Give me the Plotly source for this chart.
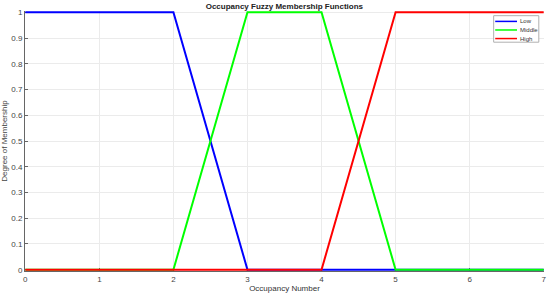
import plotly.graph_objects as go

# membership function breakpoints
x_low = [0, 2, 3, 7]
y_low = [1, 1, 0, 0]
x_mid = [0, 2, 3, 4, 5, 7]
y_mid = [0, 0, 1, 1, 0, 0]
x_high = [0, 4, 5, 7]
y_high = [0, 0, 1, 1]

names = ['Low', 'Middle', 'High']
colors = ['#0000ff', '#00ff00', '#ff0000']

x_ticks = [0, 1, 2, 3, 4, 5, 6, 7]
y_ticks = [0, 0.1, 0.2, 0.3, 0.4, 0.5, 0.6, 0.7, 0.8, 0.9, 1]
y_labels = ['0', '0.1', '0.2', '0.3', '0.4', '0.5', '0.6', '0.7', '0.8', '0.9', '1']

fig = go.Figure()
for xs, ys, name, col in zip([x_low, x_mid, x_high], [y_low, y_mid, y_high], names, colors):
    fig.add_trace(go.Scatter(x=xs, y=ys, mode='lines', name=name,
                             line=dict(color=col, width=2), showlegend=False))

axis_style = dict(showgrid=True, gridcolor='#ebebeb', gridwidth=1,
                  showline=True, linecolor='#666666', linewidth=1,
                  ticks='inside', ticklen=3, tickcolor='#666666',
                  tickfont=dict(size=8, color='#444444', family='Liberation Sans'),
                  zeroline=False, mirror=False, automargin=False, layer='below traces')

# tiny padding so the lines lying on 0 and 1 are not clipped by the plot area
fig.update_xaxes(range=[-0.004, 7.004], tickvals=x_ticks,
                 title=dict(text='Occupancy Number', standoff=2,
                            font=dict(size=8, color='#333333', family='Liberation Sans')),
                 **axis_style)
fig.update_yaxes(range=[-0.005, 1.005], tickvals=y_ticks, ticktext=y_labels,
                 title=dict(text='Degree of Membership', standoff=2,
                            font=dict(size=8, color='#444444', family='Liberation Sans')),
                 **axis_style)

# small MATLAB-like legend box drawn in paper coordinates
fig.add_shape(type='rect', xref='paper', yref='paper', x0=0.903, x1=0.990, y0=0.880, y1=0.982,
              line=dict(color='#b0b0b0', width=1), fillcolor='white', layer='above')
for i, (name, col) in enumerate(zip(names, colors)):
    ly = 0.960 - i * 0.033
    fig.add_shape(type='line', xref='paper', yref='paper', x0=0.906, x1=0.948, y0=ly, y1=ly,
                  line=dict(color=col, width=1.5), layer='above')
    fig.add_annotation(x=0.950, y=ly, xref='paper', yref='paper', text=name, showarrow=False,
                       xanchor='left', yanchor='middle',
                       font=dict(size=6, color='#333333', family='Liberation Sans'))

fig.update_layout(
    width=550, height=297,
    margin=dict(l=25, r=6, t=11, b=26, autoexpand=False),
    plot_bgcolor='white', paper_bgcolor='white',
    title=dict(text='<b>Occupancy Fuzzy Membership Functions</b>', x=0.517, y=0.99,
               xanchor='center', yanchor='top',
               font=dict(size=8, color='#222222', family='Liberation Sans')),
    showlegend=False,
)

fig.write_html("out.html", config={'displayModeBar': False},
               post_script="document.body.style.margin='0';")
